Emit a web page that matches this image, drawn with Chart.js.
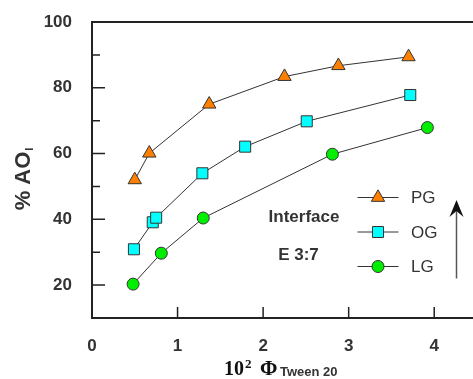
<!DOCTYPE html>
<html>
<head>
<meta charset="utf-8">
<script src="https://cdn.jsdelivr.net/npm/chart.js@4/dist/chart.umd.min.js"></script>
<style>
  html, body { margin: 0; padding: 0; background: #fff; overflow: hidden; }
  #wrap { width: 473px; height: 379px; overflow: hidden; }
  #chart { display: block; }
</style>
</head>
<body>
<div id="wrap"><canvas id="chart" width="477" height="379" style="width:477px;height:379px"></canvas></div>
<script>
// values
const xTicks = [0, 1, 2, 3, 4];
const yTicks = [20, 40, 60, 80, 100];
const yMinor = [30, 50, 70, 90];

const xPG = [0.50, 0.67, 1.37, 2.25, 2.88, 3.70];
const yPG = [52.0, 60.1, 75.0, 83.4, 86.7, 89.4];

const xOG = [0.49, 0.71, 0.75, 1.29, 1.79, 2.51, 3.72];
const yOG = [30.9, 39.1, 40.5, 54.0, 62.1, 69.8, 77.8];

const xLG = [0.48, 0.81, 1.30, 2.81, 3.92];
const yLG = [20.3, 29.7, 40.4, 59.8, 67.9];

const seriesNames = ['PG', 'OG', 'LG'];
const seriesColors = ['#FF7F00', '#00FFFF', '#00EE00'];
const seriesStyles = ['triangle', 'rect', 'circle'];

const pts = (xs, ys) => xs.map((x, i) => ({ x: x, y: ys[i] }));

function makeSet(i, data, r) {
  return {
    label: seriesNames[i],
    data: data,
    showLine: true,
    borderColor: '#333',
    borderWidth: 1,
    pointStyle: seriesStyles[i],
    pointRadius: r,
    pointHoverRadius: r,
    pointBackgroundColor: seriesColors[i],
    pointBorderColor: '#333',
    pointBorderWidth: 1
  };
}

function drawMarker(ctx, style, x, y, fill) {
  ctx.save();
  ctx.fillStyle = fill;
  ctx.strokeStyle = '#333';
  ctx.lineWidth = 1;
  ctx.beginPath();
  if (style === 'triangle') {
    const r = 7.7;
    ctx.moveTo(x, y - r);
    ctx.lineTo(x + r * 0.866, y + r / 2);
    ctx.lineTo(x - r * 0.866, y + r / 2);
    ctx.closePath();
  } else if (style === 'rect') {
    ctx.rect(x - 5.5, y - 5.5, 11, 11);
  } else {
    ctx.arc(x, y, 6, 0, Math.PI * 2);
  }
  ctx.fill();
  ctx.stroke();
  ctx.restore();
}

const extras = {
  id: 'extras',
  beforeDatasetsDraw(chart) {
    const ctx = chart.ctx;
    const a = chart.chartArea;
    const xs = chart.scales.x, ys = chart.scales.y;
    ctx.save();
    ctx.strokeStyle = '#222';
    ctx.lineWidth = 2;
    // top frame line
    ctx.beginPath();
    ctx.moveTo(a.left - 1, a.top);
    ctx.lineTo(a.right + 5, a.top);
    ctx.stroke();
    // inward ticks
    ctx.lineWidth = 1.5;
    ctx.beginPath();
    yTicks.forEach(v => {
      if (v >= 100) return;
      const p = ys.getPixelForValue(v);
      ctx.moveTo(a.left, p); ctx.lineTo(a.left + 13, p);
    });
    yMinor.forEach(v => {
      const p = ys.getPixelForValue(v);
      ctx.moveTo(a.left, p); ctx.lineTo(a.left + 8, p);
    });
    xTicks.forEach(v => {
      if (v === 0) return;
      const p = xs.getPixelForValue(v);
      ctx.moveTo(p, a.bottom); ctx.lineTo(p, a.bottom - 11);
    });
    ctx.stroke();
    ctx.restore();
  },
  afterDraw(chart) {
    const ctx = chart.ctx;
    ctx.save();
    ctx.fillStyle = '#333';

    // legend inside the plot
    const ly = [197.5, 232, 266.5];
    ctx.font = '17px "Liberation Sans", Arial, sans-serif';
    ctx.textBaseline = 'middle';
    ctx.textAlign = 'left';
    seriesNames.forEach((n, i) => {
      ctx.strokeStyle = '#333';
      ctx.lineWidth = 1;
      ctx.beginPath();
      ctx.moveTo(357.5, ly[i]); ctx.lineTo(398.5, ly[i]);
      ctx.stroke();
      drawMarker(ctx, seriesStyles[i], 378, ly[i], seriesColors[i]);
      ctx.fillStyle = '#333';
      ctx.fillText(n, 411, ly[i] + 1);
    });

    // annotations
    ctx.font = 'bold 17px "Liberation Sans", Arial, sans-serif';
    ctx.textAlign = 'center';
    ctx.textBaseline = 'alphabetic';
    ctx.fillText('Interface', 304, 222);
    ctx.fillText('E 3:7', 298.5, 260);

    // arrow
    ctx.strokeStyle = '#555';
    ctx.lineWidth = 1.5;
    ctx.beginPath();
    ctx.moveTo(456.5, 278.5); ctx.lineTo(456.5, 206);
    ctx.stroke();
    ctx.fillStyle = '#111';
    ctx.beginPath();
    ctx.moveTo(456.5, 200);
    ctx.lineTo(463.5, 217);
    ctx.lineTo(456.5, 211);
    ctx.lineTo(449.5, 217);
    ctx.closePath();
    ctx.fill();

    // x axis title: 10^2 Φ_Tween 20
    ctx.fillStyle = '#111';
    ctx.textAlign = 'left';
    ctx.textBaseline = 'alphabetic';
    const base = 375;
    ctx.font = 'bold 20px "Liberation Serif", "Times New Roman", serif';
    ctx.fillText('10', 224, base);
    ctx.font = 'bold 13px "Liberation Serif", "Times New Roman", serif';
    ctx.fillText('2', 245, base - 7);
    ctx.font = 'bold 21px "Liberation Serif", "Times New Roman", serif';
    ctx.fillText('Φ', 260, base);
    ctx.fillStyle = '#333';
    ctx.font = 'bold 13px "Liberation Sans", Arial, sans-serif';
    ctx.fillText('Tween 20', 280, base + 0.5);

    // y axis title: % AO_I
    ctx.translate(29.5, 179);
    ctx.rotate(-Math.PI / 2);
    ctx.fillStyle = '#333';
    ctx.font = 'bold 22px "Liberation Sans", Arial, sans-serif';
    const main = '% AO';
    const w1 = ctx.measureText(main).width;
    ctx.font = 'bold 11px "Liberation Sans", Arial, sans-serif';
    const w2 = ctx.measureText('I').width;
    const start = -(w1 + w2 + 1) / 2;
    ctx.font = 'bold 22px "Liberation Sans", Arial, sans-serif';
    ctx.fillText(main, start, 0);
    ctx.font = 'bold 11px "Liberation Sans", Arial, sans-serif';
    ctx.fillText('I', start + w1 + 1, 3);
    ctx.restore();
  }
};

new Chart(document.getElementById('chart').getContext('2d'), {
  type: 'scatter',
  data: {
    datasets: [
      makeSet(0, pts(xPG, yPG), 7.7),
      makeSet(1, pts(xOG, yOG), 7.8),
      makeSet(2, pts(xLG, yLG), 6)
    ]
  },
  options: {
    responsive: false,
    animation: false,
    layout: { autoPadding: false, padding: { top: 22, right: 0, left: 0, bottom: 0 } },
    plugins: {
      legend: { display: false },
      tooltip: { enabled: false }
    },
    scales: {
      x: {
        type: 'linear',
        min: 0,
        max: 4.5,
        afterBuildTicks: s => { s.ticks = xTicks.map(v => ({ value: v })); },
        afterFit: s => { s.height = 61; s.paddingLeft = 0; s.paddingRight = 0; },
        grid: { display: false, drawTicks: false },
        border: { display: true, color: '#222', width: 2 },
        ticks: {
          padding: 18,
          color: '#333',
          font: { family: '"Liberation Sans", Arial, sans-serif', size: 17, weight: 'bold' }
        }
      },
      y: {
        type: 'linear',
        min: 10,
        max: 100,
        afterBuildTicks: s => { s.ticks = yTicks.map(v => ({ value: v })); },
        afterFit: s => { s.width = 92; s.paddingTop = 0; s.paddingBottom = 0; },
        grid: { display: false, drawTicks: false },
        border: { display: true, color: '#222', width: 2 },
        ticks: {
          padding: 20,
          color: '#333',
          font: { family: '"Liberation Sans", Arial, sans-serif', size: 17, weight: 'bold' }
        }
      }
    }
  },
  plugins: [extras]
});
</script>
</body>
</html>
